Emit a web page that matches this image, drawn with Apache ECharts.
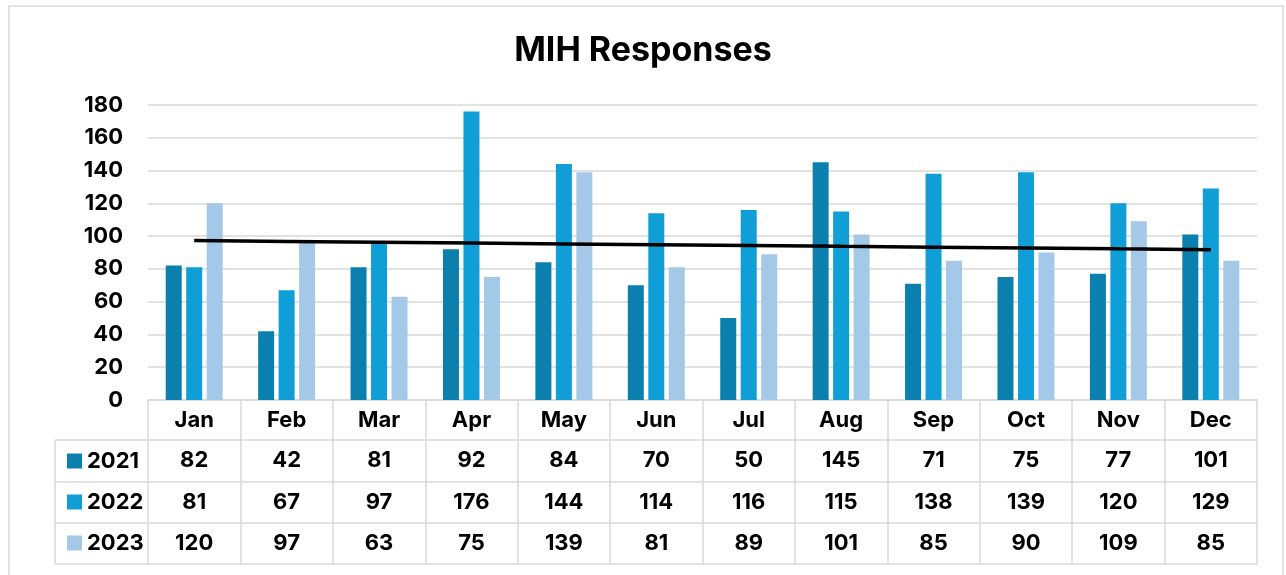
<!DOCTYPE html>
<html lang="en">
<head>
  <meta charset="UTF-8">
  <title>MIH Responses</title>
  <script src="https://cdn.jsdelivr.net/npm/echarts@6/dist/echarts.min.js"></script>
</head>
<body style="margin:0">
<div id="chart" style="width: 1286px; height: 575px"></div>
<script>
  const months = ['Jan', 'Feb', 'Mar', 'Apr', 'May', 'Jun', 'Jul', 'Aug', 'Sep', 'Oct', 'Nov', 'Dec'];
  const years = ['2021', '2022', '2023'];
  const v2021 = [82, 42, 81, 92, 84, 70, 50, 145, 71, 75, 77, 101];
  const v2022 = [81, 67, 97, 176, 144, 114, 116, 115, 138, 139, 120, 129];
  const v2023 = [120, 97, 63, 75, 139, 81, 89, 101, 85, 90, 109, 85];
  const yTicks = [0, 20, 40, 60, 80, 100, 120, 140, 160, 180];

  const values = [v2021, v2022, v2023];
  const colors = ['#0b80ae', '#0f9ed5', '#a3c8e8'];
  const font = 'Inter, "Noto Sans", sans-serif';
  const gridColor = '#d9d9d9';

  // linear trendline of the 2023 series (as in the original)
  function trend(ys) {
    const n = ys.length;
    const mx = (n - 1) / 2;
    const my = ys.reduce((a, b) => a + b, 0) / n;
    let sxy = 0, sxx = 0;
    ys.forEach((y, i) => { sxy += (i - mx) * (y - my); sxx += (i - mx) * (i - mx); });
    const k = sxy / sxx;
    return ys.map((_, i) => +(my + k * (i - mx)).toFixed(2));
  }

  const W = 1286, H = 575;
  const gLeft = 148, gRight = 29, gTop = 105, gBottom = 175;
  const rowOffsets = [40, 82, 123, 164];
  const tableLeft = 55;
  const bottomY = H - gBottom;

  const chart = echarts.init(document.getElementById('chart'));

  const labelStyle = { color: '#000', fontWeight: 'bold', fontSize: 22, fontFamily: font, margin: 9 };

  const xAxes = [{
    type: 'category',
    data: months,
    position: 'bottom',
    axisLine: { lineStyle: { color: gridColor, width: 1.5 } },
    axisTick: { show: true, length: rowOffsets[3], lineStyle: { color: gridColor, width: 1.5 } },
    axisLabel: labelStyle
  }];
  values.forEach((row, r) => {
    xAxes.push({
      type: 'category',
      data: months,
      position: 'bottom',
      offset: rowOffsets[r],
      axisLine: { lineStyle: { color: gridColor, width: 1.5 } },
      axisTick: { show: false },
      axisLabel: Object.assign({}, labelStyle, { formatter: (v, i) => String(row[i]) })
    });
  });
  xAxes.push({
    type: 'category',
    data: months,
    position: 'bottom',
    offset: rowOffsets[3],
    axisLine: { lineStyle: { color: gridColor, width: 1.5 } },
    axisTick: { show: false },
    axisLabel: { show: false }
  });

  const series = years.map((y, i) => ({
    name: y,
    type: 'bar',
    data: values[i],
    barWidth: 16,
    barGap: '28%',
    itemStyle: { color: colors[i] }
  }));
  series.push({
    name: 'trend',
    type: 'line',
    data: trend(v2023),
    symbol: 'none',
    lineStyle: { color: '#000', width: 3.5 },
    z: 5
  });

  // table lines for the row-header column
  const tableLines = [];
  rowOffsets.forEach(off => {
    tableLines.push({
      type: 'line',
      shape: { x1: tableLeft, y1: bottomY + off, x2: gLeft, y2: bottomY + off },
      style: { stroke: gridColor, lineWidth: 1.5 }
    });
  });
  tableLines.push({
    type: 'line',
    shape: { x1: tableLeft, y1: bottomY + rowOffsets[0], x2: tableLeft, y2: bottomY + rowOffsets[3] },
    style: { stroke: gridColor, lineWidth: 1.5 }
  });
  tableLines.push({
    type: 'rect',
    shape: { x: 9, y: 6, width: 1274, height: 580 },
    style: { fill: null, stroke: gridColor, lineWidth: 1.5 },
    silent: true
  });

  chart.setOption({
    animation: false,
    backgroundColor: '#fff',
    title: {
      text: 'MIH Responses',
      left: 'center',
      top: 29,
      textStyle: { color: '#000', fontWeight: 'bold', fontSize: 34, fontFamily: font }
    },
    legend: {
      data: years,
      orient: 'vertical',
      left: 62,
      top: bottomY + rowOffsets[0] + 3,
      icon: 'rect',
      itemWidth: 15,
      itemHeight: 15,
      itemGap: 15,
      textStyle: { color: '#000', fontWeight: 'bold', fontSize: 22, fontFamily: font, lineHeight: 26 }
    },
    grid: { left: gLeft, right: gRight, top: gTop, bottom: gBottom, containLabel: false },
    xAxis: xAxes,
    yAxis: {
      type: 'value',
      min: 0,
      max: yTicks[yTicks.length - 1],
      interval: 20,
      axisLine: { show: false },
      axisTick: { show: false },
      axisLabel: { color: '#000', fontWeight: 'bold', fontSize: 22, fontFamily: font, margin: 25 },
      splitLine: { lineStyle: { color: gridColor, width: 1.5 } }
    },
    series: series,
    graphic: tableLines
  });
</script>
</body>
</html>
